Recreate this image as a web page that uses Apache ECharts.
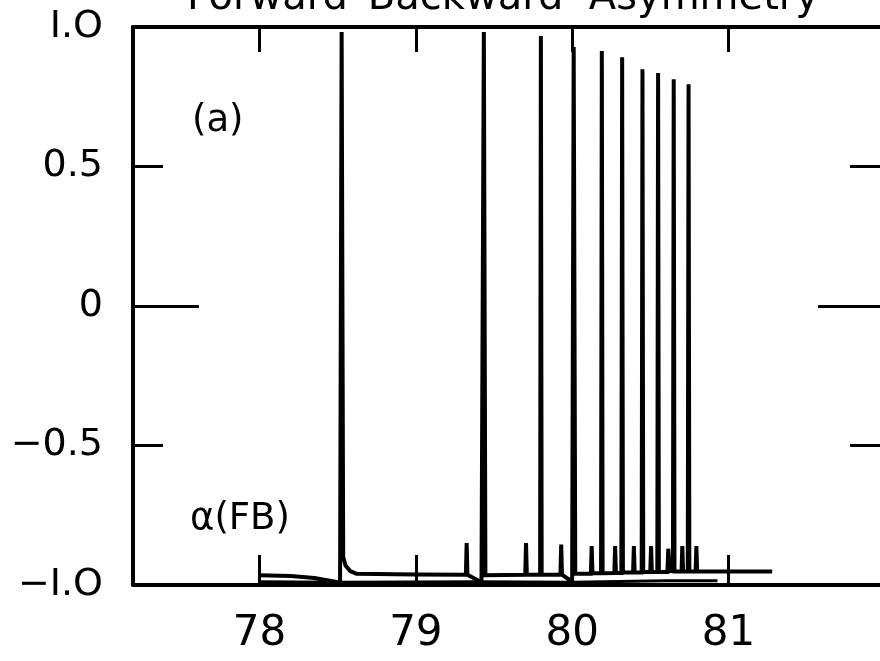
<!DOCTYPE html>
<html><head><meta charset="utf-8">
<script src="https://cdn.jsdelivr.net/npm/echarts@6/dist/echarts.min.js"></script>
<style>html,body{margin:0;padding:0;background:#fff}#c{width:880px;height:661px}</style>
</head><body><div id="c"></div>
<script>
// Tick values and labels
var xTickVals = [78, 79, 80, 81];
var yTickVals = [-1, -0.5, 0, 0.5, 1];
var yTickLabels = ['\u2212I.O', '\u22120.5', '0', '0.5', 'I.O'];

// Curve A: asymmetry with resonance spikes (x = energy, y = alpha(FB))
var xA = [78.00, 78.20, 78.35, 78.45, 78.50, 78.515, 78.525, 78.535, 78.55, 78.58, 78.62, 79.00, 79.30,
  79.320, 79.325, 79.330, 79.420, 79.435, 79.445, 79.700, 79.705, 79.710, 79.795, 79.800, 79.805,
  79.925, 79.930, 79.935, 80.000, 80.010, 80.020, 80.120, 80.125, 80.130, 80.185, 80.190, 80.195,
  80.270, 80.275, 80.280, 80.315, 80.320, 80.325, 80.390, 80.395, 80.400, 80.445, 80.450, 80.455,
  80.500, 80.505, 80.510, 80.545, 80.550, 80.555, 80.610, 80.615, 80.625, 80.645, 80.650, 80.655,
  80.700, 80.705, 80.710, 80.740, 80.745, 80.750, 80.790, 80.795, 80.800, 81.280];
var yA = [-0.965, -0.968, -0.975, -0.985, -0.990, -0.990, 0.982, -0.900, -0.930, -0.950, -0.960, -0.962, -0.963,
  -0.963, -0.850, -0.963, -0.990, 0.982, -0.965, -0.963, -0.850, -0.963, -0.963, 0.968, -0.963,
  -0.963, -0.855, -0.963, -0.988, 0.928, -0.960, -0.960, -0.860, -0.958, -0.958, 0.914, -0.958,
  -0.957, -0.860, -0.957, -0.957, 0.892, -0.955, -0.955, -0.860, -0.955, -0.955, 0.849, -0.953,
  -0.953, -0.860, -0.953, -0.953, 0.835, -0.953, -0.953, -0.870, -0.950, -0.950, 0.813, -0.952,
  -0.952, -0.860, -0.952, -0.952, 0.795, -0.952, -0.952, -0.860, -0.952, -0.952];

// Curve B: lower smooth curve
var xB = [78.00, 78.50, 79.40, 80.00, 80.60, 80.93];
var yB = [-0.988, -0.990, -0.988, -0.990, -0.985, -0.985];

function pairs(xs, ys){ return xs.map(function(x,i){ return [x, ys[i]]; }); }

var FONT = 'DejaVu Sans';
var chart = echarts.init(document.getElementById('c'), null, {renderer:'canvas'});
var black = '#000';
var option = {
  backgroundColor: '#fff',
  animation: false,
  grid: {left: 133, top: 27, right: 0, bottom: 76, containLabel: false},
  xAxis: [
    {type:'value', position:'bottom', min:77.19, max:81.97,
     axisLine:{show:true, onZero:false, lineStyle:{color:black, width:4}},
     axisTick:{show:true, inside:true, length:30, customValues:xTickVals, lineStyle:{color:black, width:3}},
     axisLabel:{show:true, customValues:xTickVals, margin:28, color:black, fontSize:42, fontFamily:FONT},
     splitLine:{show:false}},
    {type:'value', position:'top', min:77.19, max:81.97,
     axisLine:{show:true, onZero:false, lineStyle:{color:black, width:4}},
     axisTick:{show:true, inside:true, length:25, customValues:xTickVals, lineStyle:{color:black, width:3}},
     axisLabel:{show:false}, splitLine:{show:false}}
  ],
  yAxis: [
    {type:'value', position:'left', min:-1, max:1, interval:0.5,
     axisLine:{show:true, onZero:false, lineStyle:{color:black, width:4}},
     axisTick:{show:true, inside:true, length:30, lineStyle:{color:black, width:3}},
     axisLabel:{show:true, margin:30, color:black, fontSize:38, fontFamily:FONT,
       formatter:function(v){ var i = yTickVals.indexOf(v); return i>=0 ? yTickLabels[i] : ''; }},
     splitLine:{show:false}},
    {type:'value', position:'left', min:-1, max:1, interval:1,
     axisLine:{show:false}, axisLabel:{show:false}, splitLine:{show:false},
     axisTick:{show:true, inside:true, length:66, lineStyle:{color:black, width:3}}},
    {type:'value', position:'right', min:-1, max:1, interval:0.5,
     axisLine:{show:false},
     axisTick:{show:true, inside:true, length:30, lineStyle:{color:black, width:3}},
     axisLabel:{show:false}, splitLine:{show:false}},
    {type:'value', position:'right', min:-1, max:1, interval:1,
     axisLine:{show:false}, axisLabel:{show:false}, splitLine:{show:false},
     axisTick:{show:true, inside:true, length:62, lineStyle:{color:black, width:3}}}
  ],
  graphic: [
    {type:'text', x:503, y:19, style:{text:'Forward\u2013Backward  Asymmetry', font:'40px "DejaVu Sans"', fill:black, align:'center', verticalAlign:'bottom'}, z:100},
    {type:'text', x:192, y:103, style:{text:'(a)', font:'37px "DejaVu Sans"', fill:black}, z:100},
    {type:'text', x:190, y:501, style:{text:'\u03b1(FB)', font:'37px "DejaVu Sans"', fill:black}, z:100}
  ],
  series: [
    {type:'line', xAxisIndex:0, yAxisIndex:0, data:pairs(xA,yA), showSymbol:false, symbol:'none',
     lineStyle:{color:black, width:4, join:'miter'}, clip:true},
    {type:'line', xAxisIndex:0, yAxisIndex:0, data:pairs(xB,yB), showSymbol:false, symbol:'none',
     lineStyle:{color:black, width:3}, clip:true}
  ]
};
chart.setOption(option);
</script></body></html>
